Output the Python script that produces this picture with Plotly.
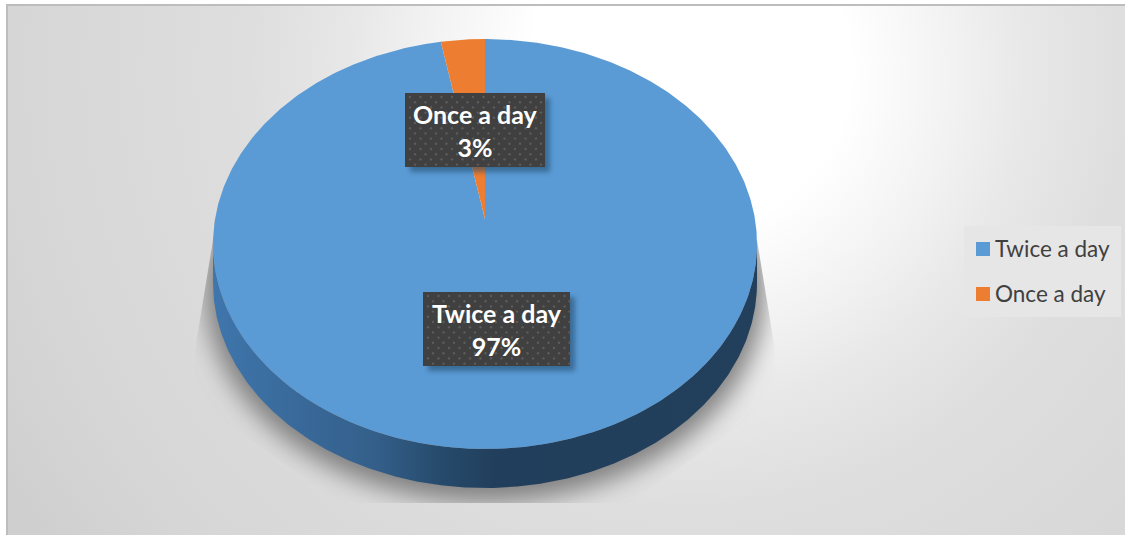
import base64
import numpy as np
import plotly.graph_objects as go

categories = ["Twice a day", "Once a day"]
values = [97.4, 2.6]
colors = ["#5b9bd5", "#ed7d31"]

W, H = 1125, 535
CX, CY, RX, RY, APEX_Y, DEPTH = 485, 244, 272, 205, 219, 39

BG = f'''<svg xmlns="http://www.w3.org/2000/svg" width="{W}" height="{H}" viewBox="0 0 {W} {H}">
<defs>
<radialGradient id="g" gradientUnits="userSpaceOnUse" cx="690" cy="70" r="800">
<stop offset="0" stop-color="#ffffff"/><stop offset="0.2" stop-color="#ffffff"/>
<stop offset="0.33" stop-color="#f2f2f2"/><stop offset="0.42" stop-color="#e8e8e8"/>
<stop offset="0.55" stop-color="#dedede"/><stop offset="0.85" stop-color="#d6d6d6"/>
<stop offset="1" stop-color="#cfcfcf"/>
</radialGradient>
<filter id="b" x="-20%" y="-20%" width="140%" height="140%"><feGaussianBlur stdDeviation="12"/></filter>
<clipPath id="c"><path d="M213 240 L195 350 L195 400 L340 503 L630 503 L775 400 L775 350 L757 240 Z"/></clipPath>
</defs>
<rect width="{W}" height="{H}" fill="#ffffff"/>
<rect x="7" y="5" width="{W}" height="{H}" fill="url(#g)" stroke="#bdbdbd" stroke-width="2"/>
<g clip-path="url(#c)"><ellipse cx="485" cy="290" rx="280" ry="212" fill="#808080" filter="url(#b)"/></g>
</svg>'''


def box(x, y, w, h):
    dots = "".join(
        f'<circle cx="{x + 5 + i * 10.5 + (5 if j % 2 else 0):.1f}" cy="{y + 4 + j * 5.2:.1f}" r="1.2" fill="#5c5c5c"/>'
        for i in range(int(w / 10.5)) for j in range(int(h / 5.2))
    )
    return (f'<rect x="{x + 5}" y="{y + 5}" width="{w}" height="{h}" fill="#1f4466" opacity="0.55" filter="url(#s)"/>'
            f'<rect x="{x}" y="{y}" width="{w}" height="{h}" fill="#404040"/>{dots}')


FG = f'''<svg xmlns="http://www.w3.org/2000/svg" width="{W}" height="{H}" viewBox="0 0 {W} {H}">
<defs><filter id="s" x="-10%" y="-20%" width="120%" height="140%"><feGaussianBlur stdDeviation="2.5"/></filter></defs>
{box(405, 93, 140, 74)}{box(423, 292, 147, 74)}
</svg>'''


def uri(svg):
    return "data:image/svg+xml;base64," + base64.b64encode(svg.encode()).decode()


def arc(start, end):
    t = np.radians(np.linspace(start, end, max(2, int(abs(end - start) * 2))))
    return CX + RX * np.sin(t), CY - RY * np.cos(t)


fig = go.Figure()

# side wall
wx, wy = arc(90, 270)
fig.add_trace(go.Scatter(
    x=np.r_[wx, wx[::-1]], y=np.r_[wy, wy[::-1] + DEPTH], mode="lines", fill="toself",
    line=dict(width=0), hoverinfo="skip", showlegend=False,
    fillgradient=dict(type="horizontal", colorscale=[
        [0, "#3f76ac"], [0.12, "#3a6c9e"], [0.3, "#345f8a"], [0.42, "#264a6b"],
        [0.52, "#213f5c"], [1, "#223f5b"]]),
))

# slices
share = np.cumsum([0] + values) / sum(values) * 360
for name, color, a, b in zip(categories, colors, share[:-1], share[1:]):
    ax, ay = arc(a, b)
    fig.add_trace(go.Scatter(
        x=np.r_[CX, ax, CX], y=np.r_[APEX_Y, ay, APEX_Y], mode="lines", fill="toself",
        fillcolor=color, line=dict(width=0, color=color), hoverinfo="text",
        text=name, showlegend=False,
    ))

# legend: square keys with text beside them
legend_y = [248, 293]
fig.add_trace(go.Scatter(
    x=[983, 983], y=[249, 294], mode="markers", hoverinfo="skip", showlegend=False,
    marker=dict(symbol="square", size=14, color=colors, line=dict(width=0)),
))

percent = [f"{round(v / sum(values) * 100)}%" for v in values]
label_xy = [(496.5, 329), (475, 130)]
annotations = [
    dict(x=x, y=y, xref="x", yref="y", text=f"<b>{n}<br>{p}</b>", showarrow=False,
         font=dict(family="Lato", size=25, color="#ffffff"), align="center")
    for n, p, (x, y) in zip(categories, percent, label_xy)
] + [
    dict(x=995, y=y, xref="x", yref="y", text=n, showarrow=False, xanchor="left",
         font=dict(family="Lato", size=22.5, color="#404040"), xshift=-2)
    for n, y in zip(categories, legend_y)
]

fig.update_layout(
    width=W, height=H, autosize=False, margin=dict(l=0, r=0, t=0, b=0),
    paper_bgcolor="#ffffff", plot_bgcolor="rgba(0,0,0,0)",
    xaxis=dict(range=[0, W], visible=False, fixedrange=True),
    yaxis=dict(range=[H, 0], visible=False, fixedrange=True),
    shapes=[dict(type="rect", xref="x", yref="y", x0=964, x1=1121, y0=226, y1=317,
                 fillcolor="#e6e6e6", line=dict(width=0), layer="below")],
    images=[
        dict(source=uri(BG), xref="paper", yref="paper", x=0, y=1, sizex=1, sizey=1,
             xanchor="left", yanchor="top", sizing="stretch", layer="below"),
        dict(source=uri(FG), xref="paper", yref="paper", x=0, y=1, sizex=1, sizey=1,
             xanchor="left", yanchor="top", sizing="stretch", layer="above"),
    ],
    annotations=annotations,
    showlegend=False,
    hovermode="closest",
)
fig.write_html("out.html", config=dict(displayModeBar=False, responsive=False),
               post_script="document.body.style.margin='0';document.documentElement.style.overflow='hidden';")
